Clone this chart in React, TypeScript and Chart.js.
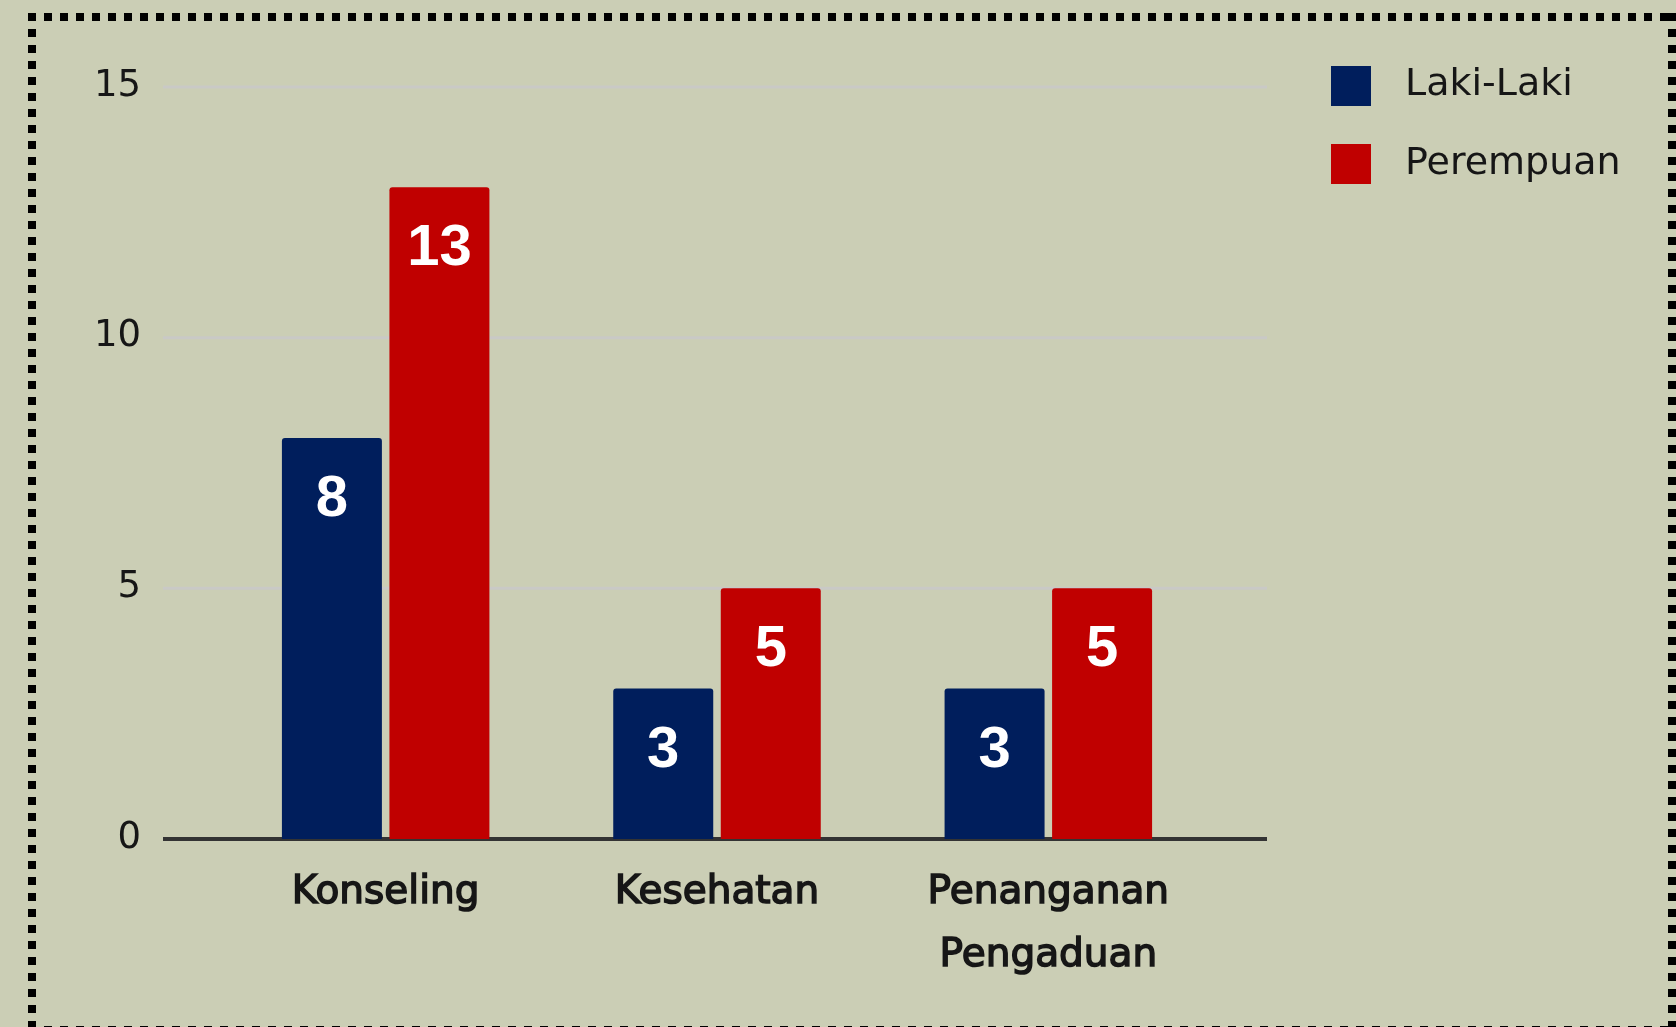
import React, { useEffect, useRef } from 'react';
import { Chart, registerables } from 'chart.js';

Chart.register(...registerables);

// ---- data ----
const categories: (string | string[])[] = ['Konseling', 'Kesehatan', ['Penanganan', 'Pengaduan']];
const seriesNames = ['Laki-Laki', 'Perempuan'];
const lakiLaki = [8, 3, 3];
const perempuan = [13, 5, 5];
const yTicks = [0, 5, 10, 15];

// ---- styles ----
const W = 1676;
const H = 1027;
const BG = '#cbceb5';
const BLUE = '#001e5c';
const RED = '#c00000';
const TEXT = '#161616';

const gridPlugin = {
  id: 'extGrid',
  beforeDatasetsDraw(chart: any) {
    const { ctx, chartArea, scales } = chart;
    const y = scales.y;
    const x0 = chartArea.left - 57;
    const x1 = chartArea.right + 53;
    ctx.save();
    yTicks.forEach((v) => {
      const py = y.getPixelForValue(v);
      ctx.beginPath();
      if (v === 0) {
        ctx.strokeStyle = '#333333';
        ctx.lineWidth = 4;
      } else {
        ctx.strokeStyle = '#c9c9c6';
        ctx.lineWidth = 3;
      }
      ctx.moveTo(x0, py);
      ctx.lineTo(x1, py);
      ctx.stroke();
    });
    ctx.restore();
  },
};

const valueLabelPlugin = {
  id: 'valueLabels',
  afterDatasetsDraw(chart: any) {
    const { ctx } = chart;
    ctx.save();
    ctx.fillStyle = '#ffffff';
    ctx.font = 'bold 58px "Liberation Sans", Arial, sans-serif';
    ctx.textAlign = 'center';
    ctx.textBaseline = 'alphabetic';
    chart.data.datasets.forEach((ds: any, di: number) => {
      const meta = chart.getDatasetMeta(di);
      meta.data.forEach((bar: any, i: number) => {
        ctx.fillText(String(ds.data[i]), bar.x, bar.y + 78);
      });
    });
    ctx.restore();
  },
};

const legendPlugin = {
  id: 'sideLegend',
  afterDraw(chart: any) {
    const { ctx } = chart;
    ctx.save();
    chart.data.datasets.forEach((ds: any, i: number) => {
      const top = 66 + i * 78;
      ctx.fillStyle = ds.backgroundColor;
      ctx.fillRect(1331, top, 40, 40);
      ctx.fillStyle = TEXT;
      ctx.font = '38px "DejaVu Sans", sans-serif';
      ctx.textAlign = 'left';
      ctx.textBaseline = 'alphabetic';
      ctx.fillText(ds.label, 1405, 95 + i * 79);
    });
    ctx.restore();
  },
};

export default function App() {
  const ref = useRef<HTMLCanvasElement>(null);

  useEffect(() => {
    document.body.style.margin = '0';
    const chart = new Chart(ref.current as HTMLCanvasElement, {
      type: 'bar',
      data: {
        labels: categories as any,
        datasets: [
          {
            label: seriesNames[0],
            data: lakiLaki,
            backgroundColor: BLUE,
            borderRadius: { topLeft: 3, topRight: 3, bottomLeft: 0, bottomRight: 0 },
            borderSkipped: false,
            categoryPercentage: 0.649,
            barPercentage: 0.93,
          },
          {
            label: seriesNames[1],
            data: perempuan,
            backgroundColor: RED,
            borderRadius: { topLeft: 3, topRight: 3, bottomLeft: 0, bottomRight: 0 },
            borderSkipped: false,
            categoryPercentage: 0.649,
            barPercentage: 0.93,
          },
        ],
      },
      options: {
        responsive: false,
        animation: false,
        devicePixelRatio: 1,
        layout: { padding: { left: 0, top: 87, right: 462, bottom: 0 } },
        plugins: {
          legend: { display: false },
          tooltip: { enabled: false },
          title: { display: false },
        },
        scales: {
          x: {
            grid: { display: false, drawTicks: false },
            border: { display: false },
            ticks: {
              color: TEXT,
              font: { family: '"DejaVu Sans", sans-serif', size: 39, lineHeight: 1.62 },
              padding: 22,
              maxRotation: 0,
              autoSkip: false,
              textStrokeColor: TEXT,
              textStrokeWidth: 1.5,
            },
            afterFit: (s: any) => {
              s.height = 188;
            },
          },
          y: {
            position: 'left',
            weight: 10,
            min: 0,
            max: 15,
            grid: { display: false, drawTicks: false },
            border: { display: false },
            ticks: {
              stepSize: 5,
              color: TEXT,
              font: { family: '"DejaVu Sans", sans-serif', size: 37 },
              padding: 4,
              labelOffset: -1,
            },
            afterFit: (s: any) => {
              s.width = 145;
            },
          },
          ySpacer: {
            type: 'linear',
            position: 'left',
            weight: 0,
            display: true,
            grid: { display: false, drawTicks: false },
            border: { display: false },
            ticks: { display: false },
            afterFit: (s: any) => {
              s.width = 75;
            },
          },
        },
      },
      plugins: [gridPlugin, valueLabelPlugin, legendPlugin],
    });
    return () => chart.destroy();
  }, []);

  const dotsH = 'repeating-linear-gradient(to right, #000 0 8px, transparent 8px 16px)';
  const dotsV = 'repeating-linear-gradient(to bottom, #000 0 8px, transparent 8px 16px)';

  return (
    <div
      style={{
        position: 'fixed',
        left: 0,
        top: 0,
        width: W,
        height: H,
        background: BG,
        overflow: 'hidden',
      }}
    >
      <canvas
        ref={ref}
        width={W}
        height={H}
        style={{ position: 'absolute', left: 0, top: 0, width: W, height: H }}
      />
      <div style={{ position: 'absolute', left: 28, top: 13, width: W - 28, height: 8, background: dotsH }} />
      <div style={{ position: 'absolute', left: 28, top: 1026, width: W - 28, height: 8, background: dotsH }} />
      <div style={{ position: 'absolute', left: 28, top: 13, width: 8, height: H, background: dotsV }} />
      <div style={{ position: 'absolute', left: 1668, top: 13, width: 8, height: H, background: dotsV }} />
    </div>
  );
}
